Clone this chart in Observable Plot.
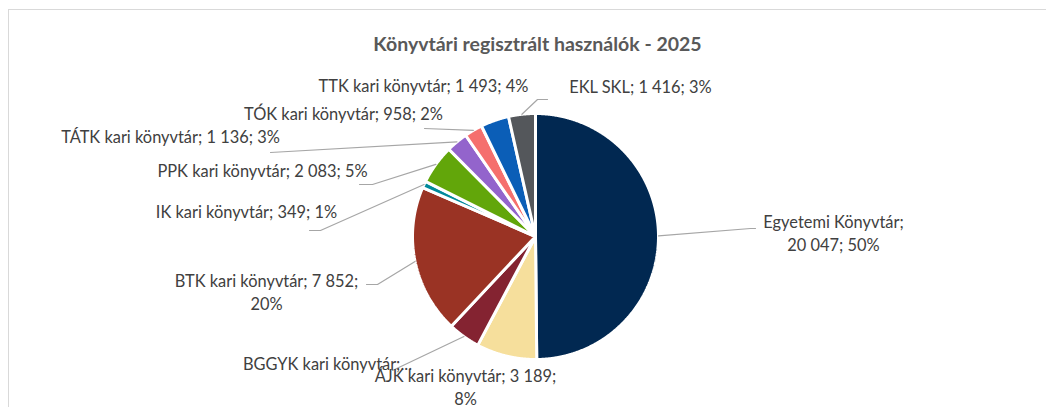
<!DOCTYPE html>
<html>
<head>
<meta charset="utf-8">
<script src="https://cdn.jsdelivr.net/npm/d3@7"></script>
<script src="https://cdn.jsdelivr.net/npm/@observablehq/plot@0.6"></script>
<style>
  html, body { margin: 0; padding: 0; background: #fff; overflow: hidden; }
  #wrap { position: relative; width: 1046px; height: 407px; overflow: hidden; }
  #border { position: absolute; left: 8px; top: 9px; width: 1100px; height: 500px;
            border-left: 1px solid #d9d9d9; border-top: 1px solid #d9d9d9; }
  #chart { position: absolute; left: 0; top: 0; }
</style>
</head>
<body>
<div id="wrap"><div id="border"></div><div id="chart"></div></div>
<script>
// ---- data ----
const title = "Könyvtári regisztrált használók - 2025";
const categories = [
  "Egyetemi Könyvtár",
  "ÁJK kari könyvtár",
  "BGGYK kari könyvtár",
  "BTK kari könyvtár",
  "IK kari könyvtár",
  "PPK kari könyvtár",
  "TÁTK kari könyvtár",
  "TÓK kari könyvtár",
  "TTK kari könyvtár",
  "EKL SKL"
];
const values = [20047, 3189, 1700, 7852, 349, 2083, 1136, 958, 1493, 1416];
const percents = [50, 8, 4, 20, 1, 5, 3, 2, 4, 3];
const colors = ["#012851", "#f6df9c", "#842331", "#9a3324", "#00899b",
                "#62a60a", "#9364cc", "#f56f6d", "#0b5eb7", "#54575b"];

// ---- layout (pixel positions of the label boxes and leader elbows) ----
const CX = 535, CY = 236, R = 123;
const labelLayout = [
  {wrap: "name",  x: 833, y: 232,   path: [[750, 228], [755, 228]]},
  {wrap: "pct",   x: 465, y: 386,   path: null},
  {wrap: "trunc", x: 327, y: 362,   path: [[392, 370]]},
  {wrap: "pct",   x: 266, y: 291,   path: [[377, 284], [366, 284]]},
  {wrap: "none",  x: 246, y: 210,   path: [[320, 230], [309, 230]]},
  {wrap: "none",  x: 262, y: 169,   path: [[372, 184], [359, 184]]},
  {wrap: "none",  x: 170, y: 135,   path: [[270, 152]]},
  {wrap: "none",  x: 343, y: 112,   path: [[424, 128]]},
  {wrap: "none",  x: 423, y: 84,    path: null},
  {wrap: "none",  x: 640, y: 85,    path: [[537, 99], [547, 99]]}
];

// ---- derived ----
const fmt = d3.formatLocale({decimal: ",", thousands: " ", grouping: [3], currency: ["", " Ft"]}).format(",");
const toU = ([px, py]) => [(px - CX) / R, (CY - py) / R];
const polar = (a, r) => [r * Math.sin(a), r * Math.cos(a)];
const arcs = d3.pie().sort(null).value(d => d)(values);

const slices = arcs.map((a, i) => {
  const n = Math.max(4, Math.ceil((a.endAngle - a.startAngle) / 0.005));
  const ring = [[0, 0]];
  for (let k = 0; k <= n; k++) ring.push(polar(a.startAngle + (a.endAngle - a.startAngle) * k / n, 1));
  ring.push([0, 0]);
  return {type: "Feature", properties: {name: categories[i]}, geometry: {type: "Polygon", coordinates: [ring]}};
});

function labelText(i) {
  const name = categories[i], v = fmt(values[i]), p = percents[i] + "%";
  switch (labelLayout[i].wrap) {
    case "name": return `${name};\n${v}; ${p}`;
    case "pct": return `${name}; ${v};\n${p}`;
    case "trunc": return `${name};...`;
    default: return `${name}; ${v}; ${p}`;
  }
}

const labels = categories.map((c, i) => {
  const [x, y] = toU([labelLayout[i].x, labelLayout[i].y]);
  return {x, y, text: labelText(i)};
});

const leaders = arcs.map((a, i) => {
  const L = labelLayout[i];
  if (!L.path) return null;
  const mid = (a.startAngle + a.endAngle) / 2;
  const coords = [polar(mid, 1.0), ...L.path.map(toU)];
  return {type: "Feature", properties: {}, geometry: {type: "LineString", coordinates: coords}};
}).filter(d => d);

const domainCircle = {type: "Feature", properties: {}, geometry: {type: "Polygon",
  coordinates: [d3.range(0, 361, 2).map(t => polar(t * Math.PI / 180, 1))]}};

const titlePos = toU([537, 44]);

const W = 1046, H = 407;
const chart = Plot.plot({
  width: W,
  height: H,
  marginLeft: CX - R,
  marginRight: W - (CX + R),
  marginTop: CY - R,
  marginBottom: H - (CY + R),
  projection: {type: "reflect-y", domain: domainCircle, inset: 0, clip: false},
  color: {domain: categories, range: colors},
  style: {fontFamily: "Lato, sans-serif", background: "transparent", overflow: "visible"},
  marks: [
    Plot.geo(slices, {fill: d => d.properties.name, stroke: "#ffffff", strokeWidth: 3,
                      strokeLinejoin: "miter"}),
    Plot.geo(leaders, {fill: "none", stroke: "#a6a6a6", strokeWidth: 1.2}),
    Plot.text(labels, {x: "x", y: "y", text: "text", fontSize: 16.4, fill: "#404040",
                       textAnchor: "middle", lineAnchor: "middle", lineHeight: 1.38}),
    Plot.text([title], {x: titlePos[0], y: titlePos[1], text: d => d, fontSize: 19.5,
                        fontWeight: "bold", fill: "#595959", textAnchor: "middle"})
  ]
});
document.getElementById("chart").appendChild(chart);
</script>
</body>
</html>
